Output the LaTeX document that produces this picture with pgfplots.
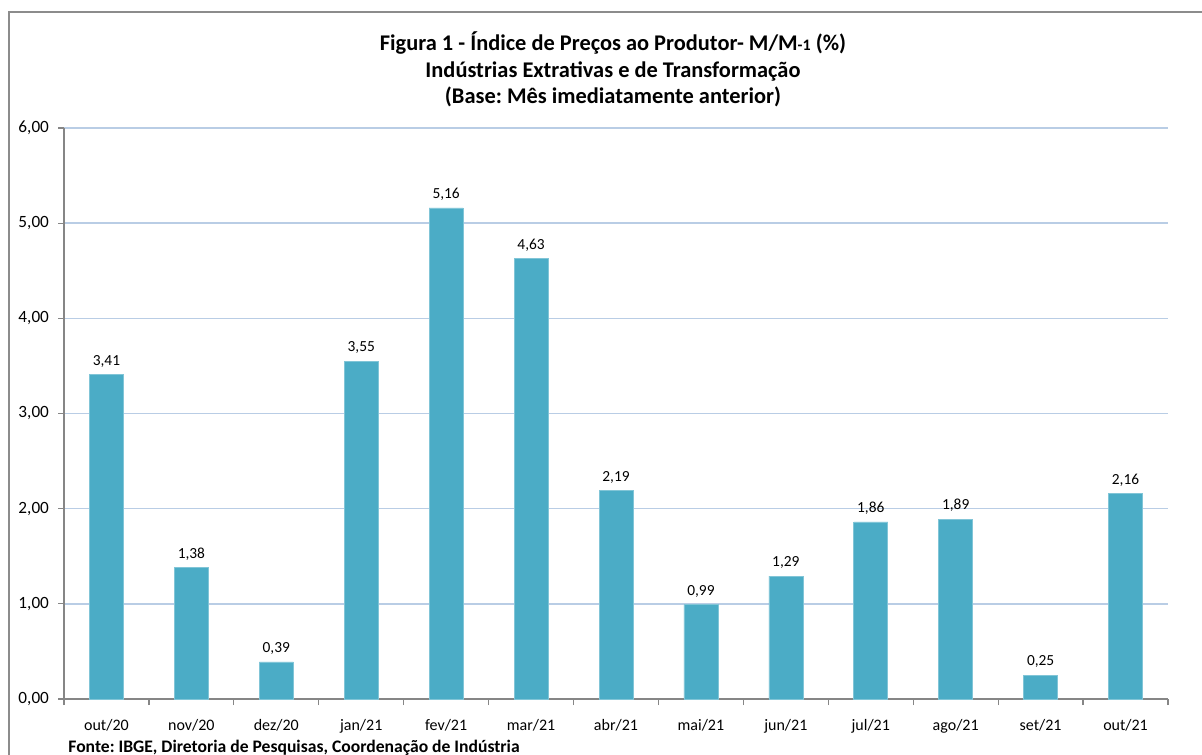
\documentclass[border=0pt]{standalone}
\usepackage{pgfplots}
\pgfplotsset{compat=1.18}
\usepackage{fontspec}
\setmainfont{Carlito}
\frenchspacing
\definecolor{barc}{HTML}{4BACC6}
\definecolor{gridc}{HTML}{B9CDE5}
\definecolor{axc}{HTML}{868686}
\definecolor{bordc}{HTML}{8C8C8C}
\begin{document}
\begin{tikzpicture}
\useasboundingbox (-32pt,-27.5pt) rectangle (569pt,349.5pt);
\draw[bordc, line width=0.6pt] (-27.5pt,-40pt) -- (-27.5pt,343.5pt) -- (580pt,343.5pt);
\begin{axis}[
  at={(0,0)}, anchor=south west,
  scale only axis,
  width=552pt, height=285.5pt,
  xmin=-0.5, xmax=12.5, ymin=0, ymax=6,
  axis x line*=bottom, axis y line*=left,
  axis line style={axc, line width=0.6pt},
  xtick={-0.5,0.5,...,12.5},
  x tick label as interval,
  xticklabels={out/20,nov/20,dez/20,jan/21,fev/21,mar/21,abr/21,mai/21,jun/21,jul/21,ago/21,set/21,out/21},
  ytick={0,1,...,6},
  tick align=outside,
  major tick length=3pt,
  tick style={axc, line width=0.6pt},
  ymajorgrids, grid style={gridc, line width=0.7pt},
  /pgf/number format/assume math mode=true,
  yticklabel style={font=\fontsize{8.6}{10}\selectfont, text=black, xshift=-1pt,
     /pgf/number format/.cd, fixed, fixed zerofill, precision=2, use comma},
  xticklabel style={font=\fontsize{8}{9.5}\selectfont, text=black, yshift=-3.5pt},
  ybar, bar width=17pt,
  nodes near coords,
  nodes near coords style={font=\fontsize{7.7}{9}\selectfont, text=black, inner sep=1pt, yshift=2.5pt,
     /pgf/number format/.cd, fixed, fixed zerofill, precision=2, use comma, assume math mode=true},
]
\addplot[fill=barc, draw=barc!70!white, line width=0.3pt] coordinates {
(0,3.41) (1,1.38) (2,0.39) (3,3.55) (4,5.16) (5,4.63) (6,2.19)
(7,0.99) (8,1.29) (9,1.86) (10,1.89) (11,0.25) (12,2.16)};
\end{axis}
\node[anchor=north, align=center, font=\fontsize{11.2}{13.2}\selectfont\bfseries] at (274.5pt,337pt)
  {Figura 1 - Índice de Preços ao Produtor- M/M{\fontsize{8}{9}\selectfont-1} (\%)\\
   Indústrias Extrativas e de Transformação\\
   (Base: Mês imediatamente anterior)};
\node[anchor=base west, inner sep=0pt, font=\fontsize{8.8}{10}\selectfont\bfseries] at (2pt,-26.5pt)
  {Fonte: IBGE, Diretoria de Pesquisas, Coordenação de Indústria};
\end{tikzpicture}
\end{document}
